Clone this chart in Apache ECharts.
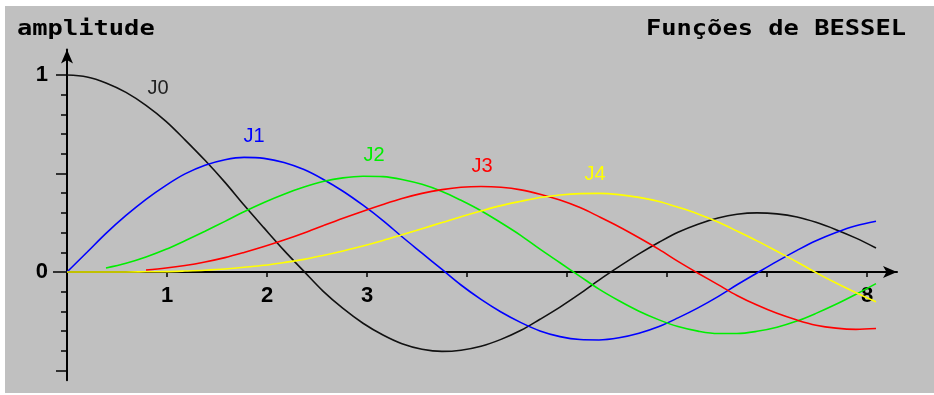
<!DOCTYPE html>
<html>
<head>
<meta charset="utf-8">
<script src="https://cdn.jsdelivr.net/npm/echarts@6/dist/echarts.min.js"></script>
<style>
  html, body { margin: 0; padding: 0; background: #ffffff; }
  #chart { position: absolute; left: 5px; top: 6px; width: 929px; height: 387px; }
</style>
</head>
<body>
<div id="chart"></div>
<script>
// Sample positions along the horizontal axis
const xs = [0, 0.20, 0.39, 0.59, 0.79, 0.99, 1.18, 1.38, 1.58, 1.77, 1.97, 2.17, 2.37, 2.56,
  2.76, 2.96, 3.16, 3.35, 3.55, 3.75, 3.94, 4.14, 4.34, 4.54, 4.73, 4.93, 5.13, 5.32, 5.52,
  5.72, 5.92, 6.11, 6.31, 6.51, 6.70, 6.90, 7.10, 7.30, 7.49, 7.69, 7.89, 8.09];

// Amplitudes of each Bessel curve at those positions (null = not drawn)
const j0 = [1.0, 0.990, 0.960, 0.912, 0.846, 0.765, 0.671, 0.567, 0.455, 0.340, 0.224, 0.110,
  0.003, -0.097, -0.185, -0.260, -0.320, -0.364, -0.392, -0.403, -0.397, -0.377, -0.342,
  -0.296, -0.240, -0.178, -0.110, -0.041, 0.027, 0.092, 0.151, 0.202, 0.243, 0.274, 0.293,
  0.300, 0.295, 0.279, 0.252, 0.215, 0.172, 0.122];
const j1 = [0, 0.100, 0.196, 0.287, 0.369, 0.440, 0.498, 0.542, 0.570, 0.582, 0.577, 0.556,
  0.520, 0.471, 0.410, 0.339, 0.261, 0.179, 0.096, 0.013, -0.066, -0.139, -0.203, -0.257,
  -0.299, -0.328, -0.343, -0.345, -0.334, -0.311, -0.277, -0.233, -0.182, -0.125, -0.065,
  -0.005, 0.054, 0.110, 0.159, 0.201, 0.235, 0.258];
const j2 = [null, null, 0.020, 0.044, 0.076, 0.115, 0.159, 0.207, 0.257, 0.306, 0.353, 0.395,
  0.431, 0.459, 0.478, 0.486, 0.484, 0.470, 0.445, 0.409, 0.364, 0.311, 0.250, 0.185, 0.116,
  0.047, -0.022, -0.087, -0.146, -0.199, -0.243, -0.277, -0.300, -0.312, -0.312, -0.301,
  -0.280, -0.249, -0.210, -0.164, -0.113, -0.059];
const j3 = [null, null, null, null, 0.010, 0.020, 0.033, 0.051, 0.073, 0.099, 0.129, 0.162,
  0.198, 0.235, 0.273, 0.309, 0.343, 0.373, 0.399, 0.418, 0.430, 0.434, 0.430, 0.417, 0.395,
  0.365, 0.327, 0.281, 0.230, 0.174, 0.115, 0.054, -0.006, -0.064, -0.119, -0.168, -0.210,
  -0.244, -0.270, -0.285, -0.291, -0.287];
const j4 = [0, 0.000, 0.000, 0.000, 0.001, 0.002, 0.005, 0.009, 0.015, 0.024, 0.034, 0.048,
  0.064, 0.084, 0.107, 0.132, 0.160, 0.189, 0.220, 0.251, 0.281, 0.310, 0.337, 0.359, 0.378,
  0.391, 0.398, 0.399, 0.393, 0.379, 0.358, 0.329, 0.295, 0.254, 0.208, 0.158, 0.105, 0.051,
  -0.003, -0.056, -0.105, -0.151];

const seriesNames = ['J0', 'J1', 'J2', 'J3', 'J4'];
const seriesColors = ['#111111', '#0000ff', '#00ee00', '#ff0000', '#ffff00'];
const labelColors = ['#222222', '#0000ff', '#00ee00', '#ff0000', '#ffff00'];

// Axis ticks and labels
const xTickValues = [1, 2, 3, 4, 5, 6, 7, 8];
const xLabelValues = [1, 2, 3, 8];
const yMinorTicks = [-0.5, -0.4, -0.3, -0.2, -0.1, 0, 0.1, 0.2, 0.3, 0.4, 0.5, 0.6, 0.7, 0.8, 0.9, 1.0];
const yMajorTicks = [-0.5, 0.5, 1.0];
const yZeroTick = [0];
const yLabelValues = [0, 1];

// Where each curve's name is written (data coordinates)
const nameSpots = [[0.91, 0.934], [1.87, 0.69], [3.07, 0.59], [4.15, 0.537], [5.28, 0.497]];

const allValues = [j0, j1, j2, j3, j4];

// Plot area and value range
const X_MIN = 0, X_MAX = 8.3;
const Y_MIN = -0.55, Y_MAX = 1.13;
const GRID = { left: 62, right: 37, top: 43.4, bottom: 12.65 };
const plotHeight = 387 - GRID.top - GRID.bottom;
// lift the horizontal axis from the bottom edge up to amplitude 0
const xAxisLift = -((0 - Y_MIN) / (Y_MAX - Y_MIN)) * plotHeight;

const chart = echarts.init(document.getElementById('chart'));

const series = allValues.map((vals, k) => ({
  name: seriesNames[k],
  type: 'line',
  xAxisIndex: 0,
  yAxisIndex: 0,
  data: xs.map((x, i) => [x, vals[i]]).filter(p => p[1] !== null),
  smooth: 0.35,
  showSymbol: false,
  symbol: 'none',
  lineStyle: { color: seriesColors[k], width: 1.6 },
  silent: true,
  animation: false,
  markPoint: {
    symbol: 'rect',
    symbolSize: 1,
    itemStyle: { color: 'transparent' },
    label: {
      show: true,
      position: 'inside',
      formatter: seriesNames[k],
      color: labelColors[k],
      fontFamily: '"Liberation Sans", Arial, sans-serif',
      fontSize: 20
    },
    data: [{ coord: nameSpots[k] }]
  }
}));

const axisFont = '"Liberation Sans", Arial, sans-serif';

// extra left axes that only carry the longer tick marks
function tickOnlyAxis(values, len) {
  return {
    type: 'value',
    min: Y_MIN,
    max: Y_MAX,
    position: 'left',
    offset: 0,
    splitLine: { show: false },
    axisLine: { show: true, onZero: false, lineStyle: { color: 'rgba(0,0,0,0)', width: 0 } },
    axisTick: { show: true, customValues: values, length: len, lineStyle: { color: '#000', width: 1.5 } },
    axisLabel: { show: false }
  };
}

chart.setOption({
  backgroundColor: '#c0c0c0',
  animation: false,
  grid: {
    left: GRID.left, right: GRID.right, top: GRID.top, bottom: GRID.bottom,
    containLabel: false,
    outerBoundsMode: 'none'
  },
  xAxis: {
    type: 'value',
    min: X_MIN,
    max: X_MAX,
    interval: 1,
    offset: xAxisLift,
    splitLine: { show: false },
    axisLine: {
      onZero: false,
      lineStyle: { color: '#000', width: 2 },
      symbol: ['none', 'arrow'],
      symbolSize: [9, 14]
    },
    axisTick: { show: true, customValues: xTickValues, length: 5, lineStyle: { color: '#000', width: 1.5 } },
    axisLabel: {
      customValues: xLabelValues,
      margin: 13,
      color: '#000',
      fontFamily: axisFont,
      fontWeight: 'bold',
      fontSize: 22
    }
  },
  yAxis: [
    {
      type: 'value',
      min: Y_MIN,
      max: Y_MAX,
      position: 'left',
      splitLine: { show: false },
      axisLine: {
        onZero: false,
        lineStyle: { color: '#000', width: 2 },
        symbol: ['none', 'arrow'],
        symbolSize: [9, 14]
      },
      axisTick: { show: true, customValues: yMinorTicks, length: 6, lineStyle: { color: '#000', width: 1.5 } },
      axisLabel: {
        customValues: yLabelValues,
        margin: 19,
        color: '#000',
        fontFamily: axisFont,
        fontWeight: 'bold',
        fontSize: 22
      }
    },
    tickOnlyAxis(yMajorTicks, 11),
    tickOnlyAxis(yZeroTick, 14)
  ],
  graphic: [
    {
      type: 'text',
      x: 12,
      y: 34,
      scaleX: 1.21,
      style: {
        text: 'amplitude',
        font: 'bold 21px "DejaVu Sans Mono", monospace',
        fill: '#000',
        textAlign: 'left',
        textVerticalAlign: 'bottom'
      }
    },
    {
      type: 'text',
      x: 901,
      y: 34,
      scaleX: 1.21,
      style: {
        text: 'Funções de BESSEL',
        font: 'bold 21px "DejaVu Sans Mono", monospace',
        fill: '#000',
        textAlign: 'right',
        textVerticalAlign: 'bottom'
      }
    }
  ],
  series: series
});
</script>
</body>
</html>
